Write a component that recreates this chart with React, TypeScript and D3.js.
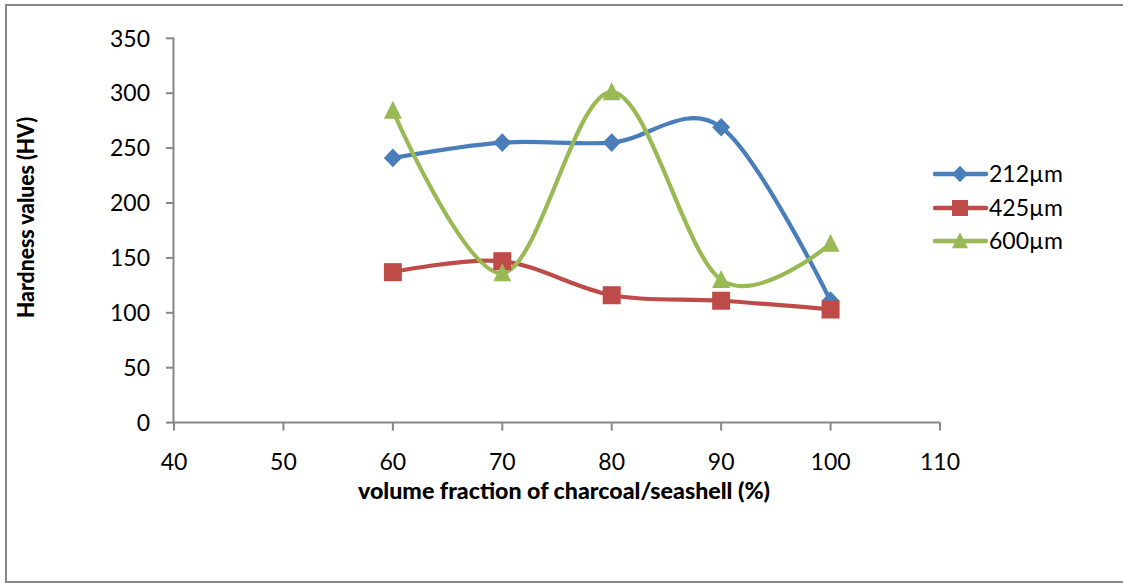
import React from "react";
import * as d3 from "d3";

const xValues = [60, 70, 80, 90, 100];
const s212 = [241, 255, 255, 269, 111];
const s425 = [137, 147, 116, 111, 103];
const s600 = [284, 136, 301, 130, 163];
const seriesNames = ["212µm", "425µm", "600µm"];
const seriesColors = ["#4A7EBB", "#BE4B48", "#98B954"];
const seriesShapes = ["diamond", "square", "triangle"];
const xTicks = [40, 50, 60, 70, 80, 90, 100, 110];
const yTicks = [0, 50, 100, 150, 200, 250, 300, 350];

const W = 1123;
const H = 583;
const FONT = "Lato, 'Open Sans', sans-serif";

function Marker({ shape, x, y, color, s }: { shape: string; x: number; y: number; color: string; s: number }) {
  if (shape === "diamond") {
    const hw = s * 0.5, hh = s * 0.52;
    return <path d={`M${x},${y - hh}L${x + hw},${y}L${x},${y + hh}L${x - hw},${y}Z`} fill={color} />;
  }
  if (shape === "square") {
    return <rect x={x - s / 2} y={y - s / 2} width={s} height={s} fill={color} />;
  }
  const hw = s * 0.5, top = y - s * 0.55, bot = y + s * 0.45;
  return <path d={`M${x},${top}L${x + hw},${bot}L${x - hw},${bot}Z`} fill={color} />;
}

export default function App() {
  const x = d3.scaleLinear().domain([40, 110]).range([174, 940]);
  const y = d3.scaleLinear().domain([0, 350]).range([422.6, 38.3]);
  const series = [s212, s425, s600];
  const line = d3
    .line<number>()
    .x((_, i) => x(xValues[i]))
    .y((d) => y(d))
    .curve(d3.curveCardinal.tension(0));
  const axisColor = "#868686";
  const legendRows = [174, 208, 241];

  return (
    <svg width={W} height={H} style={{ position: "absolute", left: 0, top: 0, background: "#fff" }}>
      <rect x={0} y={0} width={W} height={H} fill="#fff" />
      {/* chart frame */}
      <path d={`M1130,5H6V582H1130`} fill="none" stroke="#878787" strokeWidth={2} />
      {/* axes */}
      <line x1={173.5} x2={173.5} y1={y(350)} y2={y(0)} stroke={axisColor} strokeWidth={2} />
      <line x1={x(40)} x2={x(110)} y1={y(0)} y2={y(0)} stroke={axisColor} strokeWidth={2} />
      {yTicks.map((t) => (
        <g key={"y" + t}>
          <line x1={166} x2={174} y1={y(t)} y2={y(t)} stroke={axisColor} strokeWidth={2} />
          <text x={150} y={y(t)} dy="0.36em" textAnchor="end" fontFamily={FONT} fontSize={23} fill="#000">
            {t}
          </text>
        </g>
      ))}
      {xTicks.map((t) => (
        <g key={"x" + t}>
          <line x1={x(t)} x2={x(t)} y1={y(0)} y2={y(0) + 8} stroke={axisColor} strokeWidth={2} />
          <text x={x(t)} y={469.5} textAnchor="middle" fontFamily={FONT} fontSize={23} fill="#000">
            {t}
          </text>
        </g>
      ))}
      <text
        x={564}
        y={499}
        textAnchor="middle"
        fontFamily={FONT}
        fontWeight={900}
        fontSize={23.5}
        textLength={412}
        lengthAdjust="spacingAndGlyphs"
        fill="#000"
      >
        volume fraction of charcoal/seashell (%)
      </text>
      <text
        transform="translate(33.5,217.5) rotate(-90)"
        textAnchor="middle"
        fontFamily={FONT}
        fontWeight={900}
        fontSize={23.5}
        textLength={201}
        lengthAdjust="spacingAndGlyphs"
        fill="#000"
      >
        Hardness values (HV)
      </text>
      {/* series lines */}
      {series.map((s, k) => (
        <path key={"l" + k} d={line(s) || ""} fill="none" stroke={seriesColors[k]} strokeWidth={4.2} strokeLinejoin="round" />
      ))}
      {series.map((s, k) =>
        s.map((v, i) => (
          <Marker key={`m${k}-${i}`} shape={seriesShapes[k]} x={x(xValues[i])} y={y(v)} color={seriesColors[k]} s={18} />
        ))
      )}
      {/* legend */}
      {seriesNames.map((n, k) => (
        <g key={"lg" + k}>
          <line x1={935} x2={986} y1={legendRows[k]} y2={legendRows[k]} stroke={seriesColors[k]} strokeWidth={4.5} strokeLinecap="round" />
          <Marker shape={seriesShapes[k]} x={960} y={legendRows[k]} color={seriesColors[k]} s={16} />
          <text x={989} y={legendRows[k]} dy="0.36em" fontFamily={FONT} fontSize={23} fill="#000">
            {n}
          </text>
        </g>
      ))}
    </svg>
  );
}
